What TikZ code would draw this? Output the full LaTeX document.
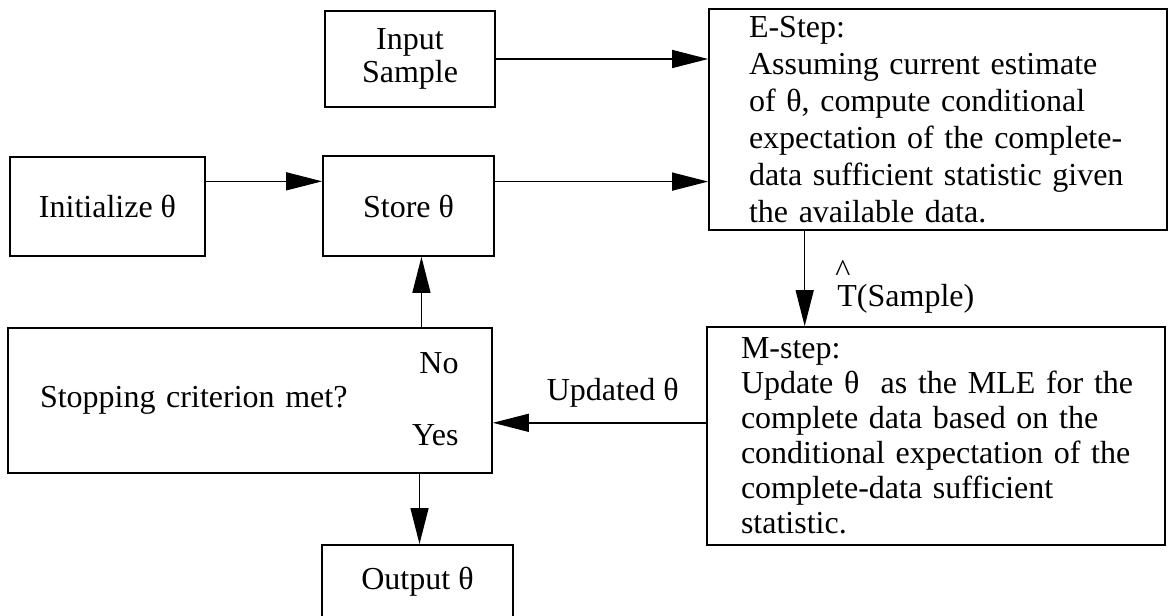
\documentclass[tikz,border=0pt]{standalone}
\usepackage{fontspec}
\setmainfont{Liberation Serif}
\usetikzlibrary{arrows.meta,calc}
\begin{document}
\begin{tikzpicture}[x=0.5pt,y=-0.5pt,
  box/.style={draw, line width=0.85pt, inner sep=0pt, font=\fontsize{16}{17.5}\selectfont},
  arr/.style={line width=0.7pt, -{Triangle[length=18pt,width=9pt]}},
  lab/.style={inner sep=0pt, font=\fontsize{16}{18}\selectfont}]
\clip (0,0) rectangle (1168,616);
\useasboundingbox (0,0) rectangle (1168,616);

\node[box, minimum width=85pt, minimum height=48pt, align=center,
      font=\fontsize{16}{16.5}\selectfont] (inp) at (410,59) {Input\\Sample};
\node[box, minimum width=97.5pt, minimum height=49.5pt] (init) at (107.5,206.5) {Initialize θ};
\node[box, minimum width=85.5pt, minimum height=50pt] (store) at (408.5,206) {Store θ};
\node[box, minimum height=110.5pt, text width=189pt, inner xsep=20pt, align=left,
      font=\fontsize{16}{18.5}\selectfont] (E) at (938,119.5)
  {\mbox{E-Step:}\\\mbox{Assuming current estimate}\\\mbox{of θ, compute conditional}\\\mbox{expectation of the complete-}\\\mbox{data sufficient statistic given}\\\mbox{the available data.}};
\node[box, minimum height=109pt, text width=195pt, inner xsep=17pt, align=left,
      font=\fontsize{16}{17.5}\selectfont] (M) at (936,436)
  {\mbox{M-step:}\\\mbox{Update θ\ \ as the MLE for the}\\\mbox{complete data based on the}\\\mbox{conditional expectation of the}\\\mbox{complete-data sufficient}\\\mbox{statistic.}};
\node[box, minimum height=72.5pt, text width=210pt, inner xsep=16pt, align=left] (stop) at (250,400.5)
  {Stopping criterion met?};
\node[box, minimum width=95.5pt, minimum height=37pt, anchor=north] (out) at (417.5,544) {Output θ};

\draw[arr] (inp.east) -- (inp.east -| E.west);
\coordinate (a1) at ($(init.north east)!0.25!(init.south east)$);
\draw[arr] (a1) -- (a1 -| store.west);
\coordinate (a2) at ($(store.north east)!0.26!(store.south east)$);
\draw[arr] (a2) -- (a2 -| E.west);
\coordinate (a3) at ($(E.south west)!0.21!(E.south east)$);
\draw[arr] (a3) -- (a3 |- M.north);
\coordinate (a4) at ($(M.north west)!0.44!(M.south west)$);
\draw[arr] (a4) -- (a4 -| stop.east);
\coordinate (a5) at ($(stop.north west)!0.853!(stop.north east)$);
\draw[arr] (a5) -- (a5 |- store.south);
\coordinate (a6) at ($(stop.south west)!0.849!(stop.south east)$);
\draw[arr] (a6) -- (a6 |- out.north);

\node[lab, anchor=west] (tl) at (837,287)
  {\makebox[0pt][l]{\hspace{-1pt}\raisebox{12.5pt}{\textasciicircum}}T(Sample)};
\node[lab, anchor=east] (ul) at (679,393) {Updated θ};
\node[lab, anchor=east] (no) at (459,363) {No};
\node[lab, anchor=east] (yes) at (459,435) {Yes};
\end{tikzpicture}
\end{document}
